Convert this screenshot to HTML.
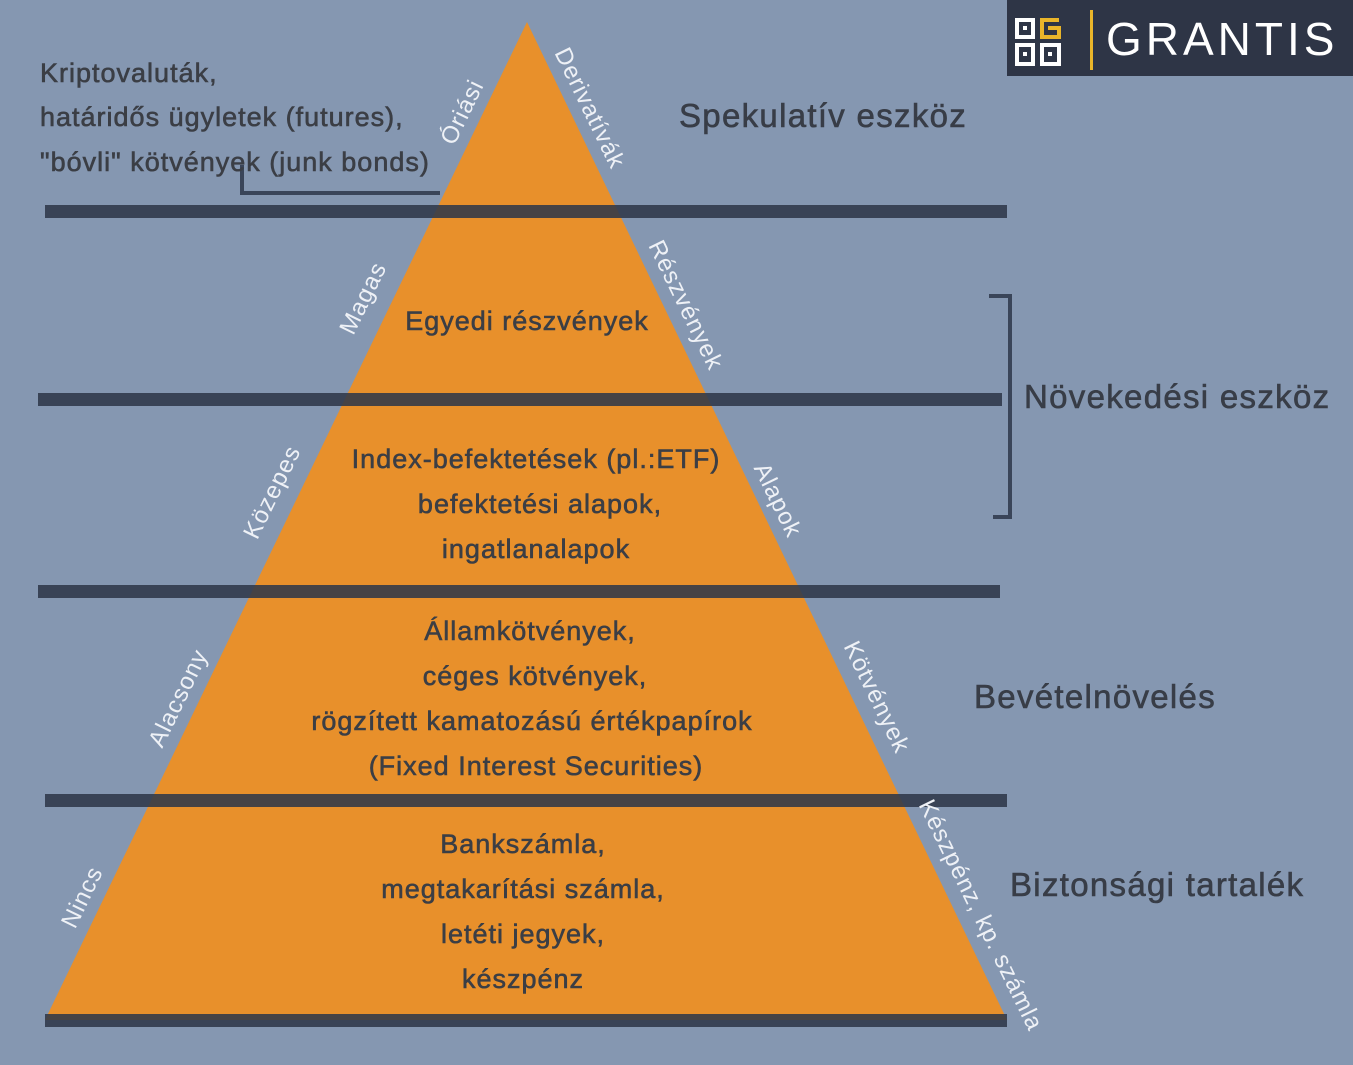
<!DOCTYPE html>
<html><head><meta charset="utf-8"><style>
html,body{margin:0;padding:0;background:#8597b1;}
svg{display:block}
text{font-family:"Liberation Sans",sans-serif;}
.b{fill:#3b3e45;font-size:27px;text-anchor:middle;stroke:#3b3e45;stroke-width:0.6;letter-spacing:1px}
.t{fill:#383d47;font-size:33px;stroke:#383d47;stroke-width:0.6;letter-spacing:1.3px}
.w{fill:#eef1f6;font-size:24px;text-anchor:middle;letter-spacing:1px}
</style></head><body>
<svg width="1353" height="1065" viewBox="0 0 1353 1065" xmlns="http://www.w3.org/2000/svg">
<rect width="1353" height="1065" fill="#8597b1"/>
<polygon points="527,22 45,1020 1007,1020" fill="#e8902b"/>
<g fill="#2f3849" fill-opacity="0.88">
<rect x="45" y="205" width="962" height="13"/>
<rect x="38" y="393" width="964" height="13"/>
<rect x="38" y="585" width="962" height="13"/>
<rect x="45" y="794" width="962" height="13"/>
<rect x="45" y="1014" width="962" height="13"/>
</g>
<path d="M242 165 V193 H440" fill="none" stroke="#3a4559" stroke-width="4"/>
<path d="M989 296 H1010 V517 H993" fill="none" stroke="#3a4559" stroke-width="4"/>
<rect x="1007" y="0" width="346" height="76" fill="#2e3546"/>
<g fill="none" stroke-width="4">
<path d="M1017 20 V37 H1033 V20 Z" stroke="#fff"/>
<rect x="1023" y="26" width="4" height="4" fill="#fff" stroke="none"/>
<path d="M1059 20 H1042 V37 H1059 V28 H1050" stroke="#e9b52a"/>
<rect x="1048" y="26" width="4" height="4" fill="#e9b52a" stroke="none"/>
<path d="M1017 45 H1033 V64 H1017 Z" stroke="#fff"/>
<rect x="1023" y="52" width="4" height="4" fill="#fff" stroke="none"/>
<path d="M1042 64 V45 H1059 V64 Z" stroke="#fff"/>
<rect x="1048" y="52" width="4" height="4" fill="#fff" stroke="none"/>
</g>
<rect x="1090" y="10" width="3" height="60" fill="#e9b52a"/>
<text x="1106" y="55" font-size="46" fill="#fff" letter-spacing="4">GRANTIS</text>

<text x="40" y="82" class="b" style="text-anchor:start">Kriptovaluták,</text>
<text x="40" y="126" class="b" style="text-anchor:start">határidős ügyletek (futures),</text>
<text x="40" y="171" class="b" style="text-anchor:start">"bóvli" kötvények (junk bonds)</text>

<text class="b" x="527" y="330">Egyedi részvények</text>
<text class="b" x="536" y="468">Index-befektetések (pl.:ETF)</text>
<text class="b" x="540" y="513">befektetési alapok,</text>
<text class="b" x="536" y="558">ingatlanalapok</text>
<text class="b" x="530" y="640">Államkötvények,</text>
<text class="b" x="535" y="685">céges kötvények,</text>
<text class="b" x="532" y="730">rögzített kamatozású értékpapírok</text>
<text class="b" x="536" y="775">(Fixed Interest Securities)</text>
<text class="b" x="523" y="853">Bankszámla,</text>
<text class="b" x="523" y="898">megtakarítási számla,</text>
<text class="b" x="523" y="943">letéti jegyek,</text>
<text class="b" x="523" y="988">készpénz</text>

<text class="t" x="679" y="127">Spekulatív eszköz</text>
<text class="t" x="1024" y="408">Növekedési eszköz</text>
<text class="t" x="974" y="708">Bevételnövelés</text>
<text class="t" x="1010" y="896">Biztonsági tartalék</text>

<text class="w" transform="translate(462,112) rotate(-64)" dy="8">Óriási</text>
<text class="w" transform="translate(590,108) rotate(64)" dy="8">Derivatívák</text>
<text class="w" transform="translate(363,298) rotate(-64)" dy="8">Magas</text>
<text class="w" transform="translate(686,305) rotate(64)" dy="8">Részvények</text>
<text class="w" transform="translate(272,492) rotate(-64)" dy="8">Közepes</text>
<text class="w" transform="translate(778,500) rotate(64)" dy="8">Alapok</text>
<text class="w" transform="translate(178,698) rotate(-64)" dy="8">Alacsony</text>
<text class="w" transform="translate(877,697) rotate(64)" dy="8">Kötvények</text>
<text class="w" transform="translate(82,897) rotate(-64)" dy="8">Nincs</text>
<text class="w" transform="translate(981,915) rotate(64)" dy="8">Készpénz, kp. számla</text>
</svg>
</body></html>
